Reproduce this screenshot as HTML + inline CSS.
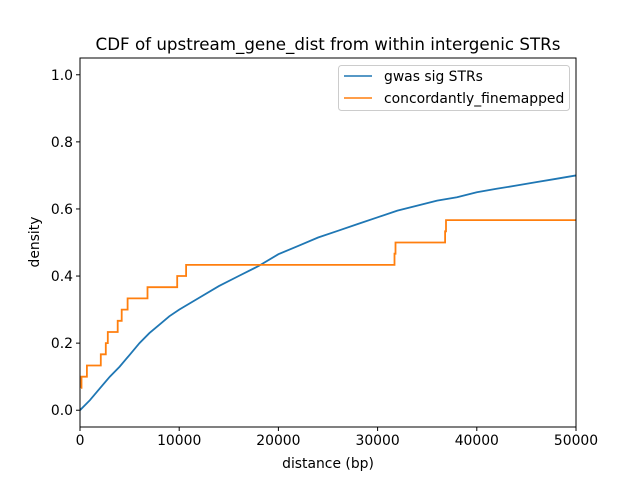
<!DOCTYPE html>
<html><head><meta charset="utf-8"><style>
body{margin:0;background:#fff;}
svg text{font-family:"DejaVu Sans","Liberation Sans",sans-serif;fill:#000;}
</style></head><body>
<svg id="chart" width="640" height="480">
<rect width="640" height="480" fill="#fff"/>
<text x="328" y="50" font-size="16.7" text-anchor="middle">CDF of upstream_gene_dist from within intergenic STRs</text>
<g id="plot"></g>
<g id="axes"></g>
<text x="328" y="468" font-size="13.9" text-anchor="middle">distance (bp)</text>
<text x="0" y="0" font-size="13.9" text-anchor="middle" transform="translate(39,242) rotate(-90)">density</text>
<g>
<rect x="338.5" y="65.5" width="231" height="45" fill="#fff" stroke="#ccc" rx="3"/>
<line x1="344" y1="76" x2="372" y2="76" stroke="#1f77b4" stroke-width="1.5"/>
<text x="384" y="81" font-size="13.9">gwas sig STRs</text>
<line x1="344" y1="98" x2="372" y2="98" stroke="#ff7f0e" stroke-width="1.5"/>
<text x="384" y="103" font-size="13.9">concordantly_finemapped</text>
</g>
</svg>
<script>
const xTicks=[0,10000,20000,30000,40000,50000];
const yTicks=[0.0,0.2,0.4,0.6,0.8,1.0];
const blueX=[0,1000,2000,3000,4000,5000,6000,7000,8000,9000,10000,12000,14000,16000,18000,20000,22000,24000,26000,28000,30000,32000,34000,36000,38000,40000,42000,44000,46000,48000,50000];
const blueY=[0,0.03,0.065,0.1,0.13,0.165,0.2,0.23,0.255,0.28,0.3,0.335,0.37,0.4,0.43,0.465,0.49,0.515,0.535,0.555,0.575,0.595,0.61,0.625,0.635,0.65,0.66,0.67,0.68,0.69,0.7];
const orangeX=[100,100,150,700,2100,2600,2800,3800,4200,4800,6800,9800,10700,31700,31800,36800,36900];
const orangeTotal=30;
const X0=80,X1=576,Y0=427,Y1=58;
const xs=v=>X0+(v-0)/(50000)*(X1-X0);
const ys=v=>Y0-(v+0.05)/1.1*(Y0-Y1);
const NS="http://www.w3.org/2000/svg";
const plot=document.getElementById('plot'),axes=document.getElementById('axes');
function mk(tag,attrs,parent){const e=document.createElementNS(NS,tag);for(const k in attrs)e.setAttribute(k,attrs[k]);parent.appendChild(e);return e;}
const cp=mk('clipPath',{id:'cp'},plot);mk('rect',{x:X0,y:Y1,width:X1-X0,height:Y0-Y1},cp);
let d='';blueX.forEach((x,i)=>{d+=(i?'L':'M')+xs(x).toFixed(1)+','+ys(blueY[i]).toFixed(1);});
const bl=mk('path',{d:d,fill:'none',stroke:'#1f77b4','stroke-width':1.8,'clip-path':'url(#cp)'},plot);


let od='M'+xs(orangeX[1]).toFixed(1)+','+ys(2/orangeTotal).toFixed(1);
orangeX.forEach((x,i)=>{if(i<2)return;const y=(i+1)/orangeTotal;od+='H'+xs(x).toFixed(1)+'V'+ys(y).toFixed(1);});
od+='H'+xs(50000);
const ol=mk('path',{d:od,fill:'none',stroke:'#ff7f0e','stroke-width':1.8,'clip-path':'url(#cp)'},plot);


const fr=mk('rect',{x:X0,y:Y1,width:X1-X0,height:Y0-Y1,fill:'none',stroke:'#000','stroke-width':1},axes);


xTicks.forEach(t=>{const x=xs(t);mk('line',{x1:x,y1:Y0,x2:x,y2:Y0+4,stroke:'#000'},axes);
const tx=mk('text',{x:x,y:Y0+18,'font-size':13.9,'text-anchor':'middle'},axes);tx.textContent=String(t);

});
yTicks.forEach(t=>{const y=ys(t);mk('line',{x1:X0-4,y1:y,x2:X0,y2:y,stroke:'#000'},axes);
const tx=mk('text',{x:X0-7,y:y+5,'font-size':13.9,'text-anchor':'end'},axes);tx.textContent=t.toFixed(1);

});
</script>
</body></html>
